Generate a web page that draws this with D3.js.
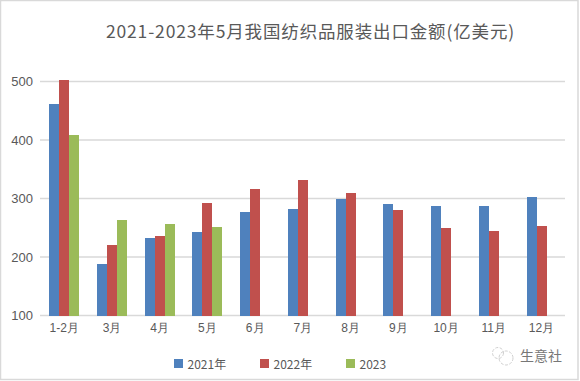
<!DOCTYPE html>
<html>
<head>
<meta charset="utf-8">
<script src="https://cdn.jsdelivr.net/npm/d3@7"></script>
<style>
  html, body { margin: 0; padding: 0; background: #fff; }
  svg { display: block; font-family: "Noto Sans CJK SC", sans-serif; }
  .axis path { display: none; }
  .axis text { fill: #595959; font-size: 12px; }
</style>
</head>
<body>
<div id="chart"></div>
<script>
var months = ["1-2月", "3月", "4月", "5月", "6月", "7月", "8月", "9月", "10月", "11月", "12月"];
var seriesNames = ["2021年", "2022年", "2023"];
var v2021 = [461, 188, 232, 242, 277, 282, 300, 290, 288, 287, 302];
var v2022 = [502, 220, 236, 292, 316, 331, 309, 280, 249, 244, 253];
var v2023 = [408, 263, 256, 252, null, null, null, null, null, null, null];
var yTicks = [100, 200, 300, 400, 500];
var colors = ["#4f81bd", "#c0504d", "#9bbb59"];
var titleText = "2021-2023年5月我国纺织品服装出口金额(亿美元)";
var watermark = "生意社";

var W = 580, H = 381;
var margin = {left: 40, right: 15, top: 81.5, bottom: 65.5};
var w = W - margin.left - margin.right;
var h = H - margin.top - margin.bottom;

var svg = d3.select("#chart").append("svg")
    .attr("width", W)
    .attr("height", H);

// outer border
svg.append("rect")
    .attr("x", 0.5).attr("y", 0.5)
    .attr("width", W - 2.5).attr("height", H - 2)
    .attr("fill", "#fff")
    .attr("stroke", "#d9d9d9")
    .attr("stroke-width", 1.5);

var g = svg.append("g")
    .attr("transform", "translate(" + margin.left + "," + margin.top + ")");

/*
 * scales
 */
var x = d3.scaleBand().domain(months).range([0.4, w + 0.4]).paddingInner(0.37).paddingOuter(0.185);
var x1 = d3.scaleBand().domain(seriesNames).range([0, x.bandwidth()]);
var y = d3.scaleLinear().domain([100, 500]).range([h, 0]);

/*
 * axes
 */
var yAxis = g.append("g").attr("class", "axis")
    .call(d3.axisLeft(y).tickValues(yTicks).tickSize(0).tickPadding(7));
yAxis.selectAll("text").style("font-size", "13px");

g.append("g").selectAll("line")
    .data(yTicks)
    .enter().append("line")
    .attr("x1", 0).attr("x2", w)
    .attr("y1", d => y(d)).attr("y2", d => y(d))
    .attr("stroke", "#d9d9d9")
    .attr("stroke-width", 1.3);

/*
 * bars
 */
[v2021, v2022, v2023].forEach(function (vals, s) {
    g.append("g").selectAll("rect")
        .data(vals.map((d, i) => ({m: months[i], v: d})).filter(d => d.v !== null))
        .enter().append("rect")
        .attr("x", d => x(d.m) + x1(seriesNames[s]))
        .attr("y", d => y(d.v))
        .attr("width", x1.bandwidth())
        .attr("height", d => h - y(d.v))
        .attr("fill", colors[s])
        .attr("shape-rendering", "crispEdges");
});

g.append("g").attr("class", "axis")
    .attr("transform", "translate(0," + h + ")")
    .call(d3.axisBottom(x).tickSize(0).tickPadding(8));

/*
 * title
 */
svg.append("text")
    .attr("x", 310.5).attr("y", 37.5)
    .attr("text-anchor", "middle")
    .attr("fill", "#595959")
    .style("font-size", "17.5px")
    .style("letter-spacing", "0.85px")
    .text(titleText);

/*
 * legend
 */
var legendX = d3.scalePoint().domain(seriesNames).range([174, 346]);
var legend = svg.append("g").selectAll("g")
    .data(seriesNames)
    .enter().append("g")
    .attr("transform", d => "translate(" + legendX(d) + ",359)");
legend.append("rect")
    .attr("width", 9).attr("height", 9)
    .attr("fill", (d, i) => colors[i]);
legend.append("text")
    .attr("x", 13.5).attr("y", 9.5)
    .attr("fill", "#595959")
    .style("font-size", "12px")
    .text(d => d);

/*
 * watermark
 */
var mark = svg.append("g").attr("fill", "none").attr("stroke", "#d0d0d0").attr("stroke-dasharray", "3 1.5");
mark.append("circle").attr("cx", 498).attr("cy", 353).attr("r", 5.5);
mark.append("circle").attr("cx", 506).attr("cy", 358).attr("r", 7);
svg.append("text")
    .attr("x", 520).attr("y", 360.5)
    .attr("fill", "#777")
    .style("font-size", "14px")
    .text(watermark);
</script>
</body>
</html>
